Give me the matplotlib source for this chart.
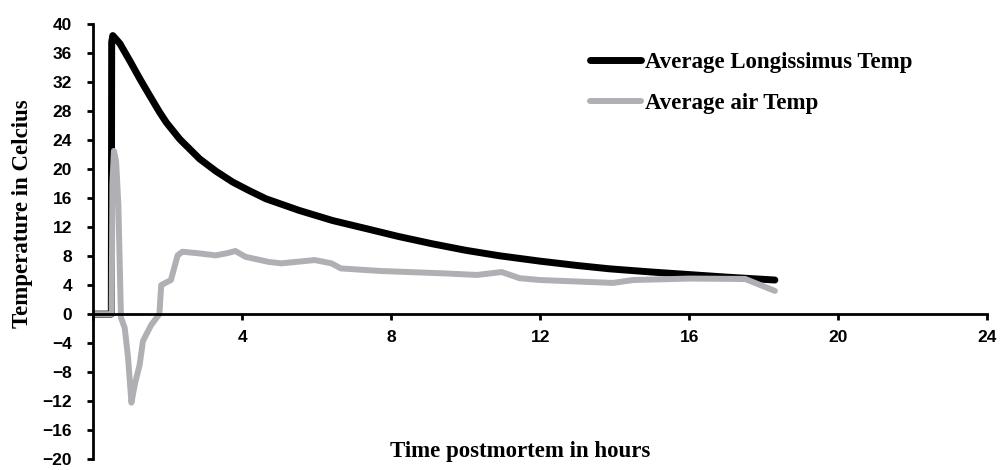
import matplotlib
matplotlib.use("Agg")
import matplotlib.pyplot as plt

# hours postmortem / temperature (C)
muscle_hours = [0, 0.49, 0.5, 0.53, 0.6, 0.72, 1.0, 1.26, 1.5, 1.79, 1.97, 2.33, 2.86,
                3.3, 3.75, 4.2, 4.64, 5.53, 6.43, 7.32, 8.2, 9.1, 10.0, 10.9, 12.0,
                13.0, 13.85, 15.0, 16.0, 17.0, 18.3]
muscle_temp = [0, 0, 37.5, 38.4, 38.0, 37.3, 34.8, 32.4, 30.3, 27.8, 26.4, 24.1, 21.4,
               19.7, 18.2, 17.0, 15.9, 14.3, 12.9, 11.8, 10.7, 9.7, 8.8, 8.05, 7.3,
               6.7, 6.25, 5.8, 5.45, 5.1, 4.7]

air_hours = [0, 0.5, 0.52, 0.56, 0.62, 0.68, 0.72, 0.75, 0.85, 0.94, 1.03, 1.12, 1.25,
             1.34, 1.56, 1.78, 1.83, 2.09, 2.27, 2.4, 2.8, 3.29, 3.6, 3.82, 4.09, 4.71,
             5.05, 5.95, 6.4, 6.65, 7.7, 9.5, 10.3, 10.97, 11.45, 12.0, 13.95, 14.5,
             16.0, 17.5, 18.3]
air_temp = [0, 0, 18, 22.5, 21, 15, 6, -0.5, -1.9, -6, -12.2, -9.7, -7.0,
            -3.7, -1.5, 0, 4.0, 4.7, 8.1, 8.6, 8.4, 8.1, 8.4, 8.7, 7.9, 7.2,
            7.0, 7.45, 7.0, 6.3, 5.95, 5.6, 5.4, 5.8, 4.95, 4.7, 4.3, 4.7,
            4.9, 4.85, 3.2]

x_ticks = [0, 4, 8, 12, 16, 20, 24]
y_ticks = list(range(-20, 41, 4))

serif = "Liberation Serif"
sans = "Liberation Sans"

fig = plt.figure(figsize=(10.07, 4.70), dpi=100)
ax = fig.add_axes([0.0924, 0.023, 0.888, 0.926])

ax.plot(muscle_hours, muscle_temp, color="black", lw=5, solid_capstyle="round",
        solid_joinstyle="round", label="Average Longissimus Temp")
ax.plot(air_hours, air_temp, color="#B0B0B4", lw=4.3, solid_capstyle="round",
        solid_joinstyle="round", label="Average air Temp")

ax.set_xlim(0, 24)
ax.set_ylim(-20, 40)
ax.spines["top"].set_visible(False)
ax.spines["right"].set_visible(False)
ax.spines["bottom"].set_position(("data", 0))
ax.spines["left"].set_linewidth(2)
ax.spines["bottom"].set_linewidth(2)

ax.set_xticks(x_ticks)
ax.set_xticklabels(["" if t == 0 else str(t) for t in x_ticks])
ax.set_yticks(y_ticks)
ax.tick_params(axis="both", direction="out", length=4.5, width=2, labelsize=12.5)
ax.tick_params(axis="y", pad=10.5)
ax.tick_params(axis="x", pad=7)
for lab in ax.get_xticklabels() + ax.get_yticklabels():
    lab.set_fontfamily(sans)
    lab.set_fontweight("bold")

fig.text(0.022, 0.545, "Temperature in Celcius", rotation=90, ha="center", va="center",
         fontsize=16.5, fontweight="bold", family=serif)
fig.text(0.517, 1 - 452 / 470, "Time postmortem in hours", ha="center", va="center",
         fontsize=16.5, fontweight="bold", family=serif)

leg = ax.legend(loc="upper left", bbox_to_anchor=(0.533, 0.983), frameon=False,
                handlelength=2.23, handletextpad=0.17, labelspacing=0.85,
                prop={"family": serif, "weight": "bold", "size": 16.5})

fig.savefig("out.png", dpi=100)
